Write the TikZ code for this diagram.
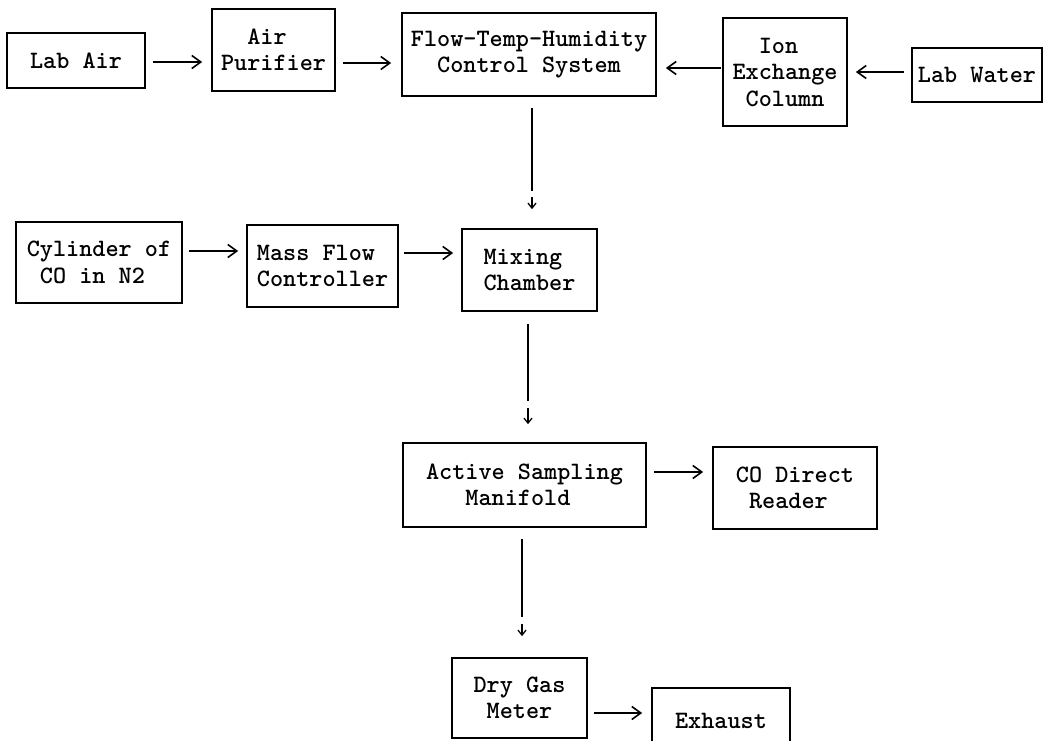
\documentclass[tikz,border=0pt]{standalone}
\usetikzlibrary{arrows.meta}
\tikzset{
  box/.style={draw, line width=1.7pt, rectangle, inner sep=0pt, align=left,
    font=\ttfamily\bfseries\fontsize{25}{26.5}\selectfont},
  harr/.style={line width=1.4pt, -{Straight Barb[length=9pt,width=13pt,line width=1.6pt]}},
  varr/.style={line width=1.4pt, -{Straight Barb[length=5pt,width=8pt,line width=1.3pt]}},
}
\begin{document}
\begin{tikzpicture}[x=1pt,y=-1pt]
\useasboundingbox (0,0) rectangle (1045,740);
\clip (0,0) rectangle (1045,740);
% boxes
\node[box, minimum width=138pt, minimum height=55pt] (labair) at (76,60.5) {Lab Air};
\node[box, minimum width=123pt, minimum height=82pt] (airpur) at (273.5,50) {\phantom{xx}Air\\Purifier};
\node[box, minimum width=254pt, minimum height=83pt] (flow) at (529,54.5) {Flow-Temp-Humidity\\\phantom{xx}Control System};
\node[box, minimum width=124pt, minimum height=108pt] (ion) at (785,72) {\phantom{xx}Ion\\Exchange\\\phantom{x}Column};
\node[box, minimum width=130pt, minimum height=54pt] (labwater) at (977,75) {Lab Water};
\node[box, minimum width=166pt, minimum height=81pt] (cyl) at (99,262.5) {Cylinder of\\\phantom{x}CO in N2};
\node[box, minimum width=151pt, minimum height=82pt] (mfc) at (322.5,266) {Mass Flow\\Controller};
\node[box, minimum width=135pt, minimum height=82pt] (mix) at (529.5,270) {Mixing\\Chamber};
\node[box, minimum width=243pt, minimum height=84pt] (asm) at (524.5,485) {Active Sampling\\\phantom{xxx}Manifold};
\node[box, minimum width=164pt, minimum height=82pt] (co) at (795,488) {CO Direct\\\phantom{x}Reader};
\node[box, minimum width=135pt, minimum height=80pt] (dgm) at (519.5,698) {Dry Gas\\\phantom{x}Meter};
\node[box, minimum width=138pt, minimum height=66pt] (exh) at (721,721) {Exhaust};
% horizontal connectors
\draw[harr, shorten <=7pt, shorten >=9pt] ([yshift=-1.5pt]labair.east) -- ([yshift=-12pt]airpur.west);
\draw[harr, shorten <=7pt, shorten >=10pt] ([yshift=-13pt]airpur.east) -- ([yshift=-8.5pt]flow.west);
\draw[harr, shorten <=1pt, shorten >=9pt] ([yshift=4pt]ion.west) -- ([yshift=-13.5pt]flow.east);
\draw[harr, shorten <=7pt, shorten >=8pt] ([yshift=3pt]labwater.west) -- (ion.east);
\draw[harr, shorten <=6pt, shorten >=8pt] ([yshift=11.5pt]cyl.east) -- ([yshift=15pt]mfc.west);
\draw[harr, shorten <=5pt, shorten >=8pt] ([yshift=13pt]mfc.east) -- ([yshift=17pt]mix.west);
\draw[harr, shorten <=7pt, shorten >=9pt] ([yshift=13pt]asm.east) -- ([yshift=16pt]co.west);
\draw[harr, shorten <=6pt, shorten >=9pt] ([yshift=-15pt]dgm.east) -- ([yshift=8pt]exh.west);
% vertical connectors
\draw[varr, dash pattern=on 83pt off 6pt on 300pt, shorten <=11pt, shorten >=19pt] ([xshift=3pt]flow.south) -- ([xshift=2.5pt]mix.north);
\draw[varr, dash pattern=on 77pt off 7pt on 300pt, shorten <=12pt, shorten >=18pt] ([xshift=-1.5pt]mix.south) -- ([xshift=3.5pt]asm.north);
\draw[varr, dash pattern=on 78pt off 7pt on 300pt, shorten <=11pt, shorten >=21pt] ([xshift=-2.5pt]asm.south) -- ([xshift=2.5pt]dgm.north);
\end{tikzpicture}
\end{document}
